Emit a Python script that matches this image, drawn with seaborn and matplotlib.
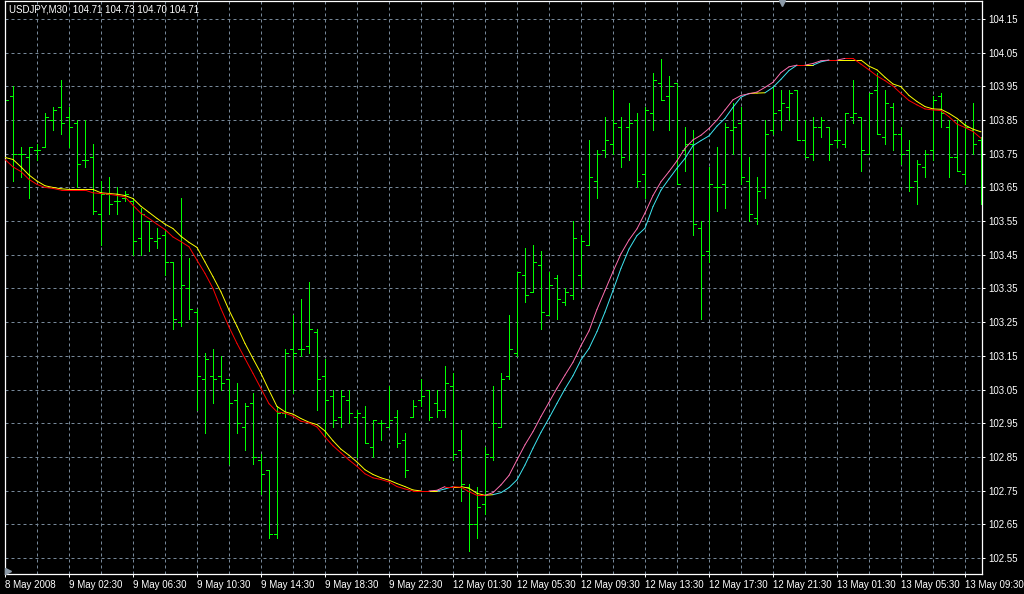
import numpy as np
import pandas as pd
import matplotlib
matplotlib.use("Agg")
import matplotlib.pyplot as plt
import seaborn as sns

# USDJPY M30 bars (open, high, low, close)
opens = [103.95, 103.92, 103.75, 103.74, 103.76, 103.77, 103.85, 103.89, 103.86, 103.84,
         103.73, 103.74, 103.57, 103.63, 103.61, 103.62, 103.61, 103.50, 103.55, 103.49,
         103.51, 103.43, 103.25, 103.35, 103.28, 103.08, 103.09, 103.09, 103.08, 103.02,
         102.94, 103.01, 102.84, 102.81, 102.62, 102.98, 103.17, 103.17, 103.18, 103.22,
         103.09, 103.03, 102.97, 103.02, 102.97, 102.97, 102.88, 102.95, 102.94, 102.97,
         102.90, 102.97, 103.02, 103.05, 103.01, 102.99, 103.06, 102.87, 102.76, 102.65,
         102.71, 102.85, 102.94, 103.09, 103.16, 103.39, 103.34, 103.42, 103.27, 103.38,
         103.31, 103.33, 103.39, 103.48, 103.67, 103.76, 103.78, 103.83, 103.83, 103.85,
         103.69, 103.87, 103.96, 103.92, 103.96, 103.76, 103.78, 103.53, 103.46, 103.65,
         103.66, 103.82, 103.84, 103.67, 103.56, 103.65, 103.82, 103.88, 103.89, 103.94,
         103.79, 103.75, 103.83, 103.83, 103.79, 103.78, 103.86, 103.86, 103.75, 103.94,
         103.80, 103.89, 103.81, 103.76, 103.67, 103.71, 103.76, 103.92, 103.83, 103.74,
         103.69, 103.82, 103.79]
highs = [103.98, 103.95, 103.77, 103.77, 103.78, 103.87, 103.89, 103.97, 103.89, 103.85,
         103.85, 103.78, 103.67, 103.68, 103.65, 103.64, 103.62, 103.59, 103.55, 103.53,
         103.52, 103.43, 103.62, 103.44, 103.29, 103.16, 103.17, 103.15, 103.08, 103.07,
         103.01, 103.04, 102.86, 102.81, 103.00, 103.17, 103.27, 103.32, 103.37, 103.23,
         103.14, 103.05, 103.05, 103.05, 102.99, 103.00, 102.96, 102.96, 103.06, 102.99,
         102.92, 103.02, 103.08, 103.05, 103.05, 103.12, 103.10, 102.93, 102.77, 102.76,
         102.88, 103.06, 103.10, 103.27, 103.40, 103.47, 103.48, 103.46, 103.40, 103.39,
         103.35, 103.55, 103.51, 103.79, 103.76, 103.86, 103.94, 103.86, 103.90, 103.87,
         103.89, 103.99, 104.03, 103.98, 103.96, 103.83, 103.82, 103.55, 103.71, 103.77,
         103.84, 103.90, 103.89, 103.74, 103.68, 103.85, 103.95, 103.94, 103.94, 103.94,
         103.85, 103.86, 103.86, 103.83, 103.82, 103.87, 103.97, 103.86, 103.93, 103.99,
         103.94, 103.90, 103.83, 103.79, 103.73, 103.76, 103.92, 103.93, 103.85, 103.85,
         103.84, 103.90, 103.80]
lows = [103.89, 103.67, 103.68, 103.62, 103.73, 103.77, 103.82, 103.81, 103.77, 103.65,
        103.71, 103.57, 103.48, 103.57, 103.57, 103.61, 103.45, 103.45, 103.46, 103.47,
        103.39, 103.23, 103.24, 103.26, 102.99, 102.92, 103.01, 103.05, 102.83, 102.92,
        102.87, 102.83, 102.74, 102.61, 102.61, 102.97, 103.04, 103.15, 103.16, 102.99,
        102.91, 102.94, 102.94, 102.95, 102.85, 102.89, 102.85, 102.90, 102.94, 102.88,
        102.79, 102.97, 103.00, 102.96, 102.97, 102.97, 102.84, 102.72, 102.57, 102.61,
        102.68, 102.84, 102.94, 103.08, 103.15, 103.31, 103.34, 103.23, 103.27, 103.26,
        103.30, 103.32, 103.35, 103.48, 103.62, 103.74, 103.75, 103.71, 103.73, 103.65,
        103.62, 103.82, 103.91, 103.82, 103.66, 103.70, 103.51, 103.26, 103.43, 103.58,
        103.59, 103.75, 103.66, 103.55, 103.54, 103.62, 103.81, 103.82, 103.85, 103.79,
        103.74, 103.73, 103.80, 103.73, 103.77, 103.77, 103.84, 103.70, 103.75, 103.81,
        103.78, 103.76, 103.72, 103.64, 103.60, 103.68, 103.73, 103.83, 103.68, 103.70,
        103.66, 103.75, 103.60]
closes = [103.91, 103.75, 103.75, 103.77, 103.76, 103.86, 103.88, 103.84, 103.83, 103.72,
          103.73, 103.58, 103.63, 103.60, 103.61, 103.63, 103.49, 103.57, 103.50, 103.50,
          103.43, 103.26, 103.36, 103.29, 103.09, 103.14, 103.08, 103.07, 103.01, 102.95,
          103.00, 102.85, 102.80, 102.62, 102.98, 103.16, 103.16, 103.17, 103.23, 103.08,
          103.02, 102.96, 103.03, 102.98, 102.98, 102.89, 102.96, 102.95, 102.96, 102.89,
          102.81, 103.00, 103.03, 102.97, 102.99, 103.07, 102.86, 102.77, 102.65, 102.70,
          102.86, 102.95, 103.08, 103.17, 103.40, 103.33, 103.43, 103.28, 103.36, 103.32,
          103.34, 103.50, 103.49, 103.68, 103.75, 103.79, 103.84, 103.74, 103.84, 103.67,
          103.88, 103.97, 103.91, 103.95, 103.66, 103.78, 103.54, 103.45, 103.66, 103.65,
          103.83, 103.83, 103.68, 103.57, 103.64, 103.81, 103.87, 103.90, 103.93, 103.79,
          103.74, 103.83, 103.85, 103.78, 103.79, 103.87, 103.87, 103.76, 103.93, 103.81,
          103.90, 103.81, 103.75, 103.65, 103.72, 103.75, 103.91, 103.87, 103.74, 103.70,
          103.83, 103.78, 103.74]

# two moving averages (slow: yellow/cyan, fast: red/pink)
ma_slow = [103.739, 103.733, 103.711, 103.687, 103.669, 103.655, 103.650, 103.646, 103.644, 103.644,
           103.644, 103.644, 103.634, 103.632, 103.630, 103.626, 103.617, 103.594, 103.576, 103.558,
           103.541, 103.528, 103.505, 103.487, 103.472,
           103.429, 103.385, 103.340, 103.286, 103.238, 103.187, 103.142, 103.098, 103.048, 103.000,
           102.984, 102.977, 102.964, 102.953, 102.946, 102.927, 102.898, 102.873, 102.855, 102.835,
           102.812, 102.798, 102.788, 102.781,
           102.771, 102.762, 102.752, 102.749, 102.749, 102.749, 102.755, 102.762, 102.762, 102.757,
           102.742, 102.736, 102.738, 102.744, 102.759, 102.782, 102.826, 102.876, 102.923, 102.965,
           103.009, 103.052, 103.091, 103.138, 103.172,
           103.222, 103.280, 103.344, 103.410, 103.467, 103.507, 103.529, 103.593, 103.642, 103.675,
           103.707, 103.736, 103.774, 103.789, 103.803, 103.832, 103.855, 103.888, 103.918, 103.929,
           103.930, 103.931, 103.947, 103.971,
           103.997, 104.013, 104.013, 104.013, 104.023, 104.028, 104.028, 104.028, 104.028, 104.028,
           104.010, 103.999, 103.977, 103.957, 103.949, 103.923, 103.905, 103.890, 103.883, 103.882,
           103.870, 103.855, 103.835, 103.823, 103.815]
ma_fast = [103.733, 103.711, 103.697, 103.674, 103.659, 103.650, 103.647, 103.642, 103.642, 103.642,
           103.642, 103.634, 103.632, 103.630, 103.626, 103.622, 103.597, 103.573, 103.558, 103.541,
           103.525, 103.503, 103.489, 103.474, 103.434,
           103.395, 103.350, 103.290, 103.236, 103.187, 103.142, 103.098, 103.053, 103.008, 102.984,
           102.980, 102.971, 102.956, 102.951, 102.939, 102.909, 102.883, 102.862, 102.841, 102.822,
           102.800, 102.788, 102.783, 102.776,
           102.762, 102.755, 102.749, 102.749, 102.749, 102.751, 102.762, 102.762, 102.760, 102.747,
           102.736, 102.736, 102.744, 102.767, 102.795, 102.841, 102.886, 102.925, 102.970, 103.012,
           103.054, 103.093, 103.131, 103.180, 103.224,
           103.288, 103.344, 103.400, 103.453, 103.494, 103.527, 103.574, 103.626, 103.667, 103.697,
           103.729, 103.766, 103.791, 103.805, 103.825, 103.850, 103.880, 103.910, 103.923, 103.928,
           103.933, 103.947, 103.962, 103.991,
           104.008, 104.013, 104.013, 104.018, 104.026, 104.028, 104.028, 104.033, 104.033, 104.016,
           103.999, 103.981, 103.967, 103.951, 103.929, 103.908, 103.895, 103.883, 103.880, 103.878,
           103.860, 103.838, 103.828, 103.816, 103.796]

time_labels = ["8 May 2008", "9 May 02:30", "9 May 06:30", "9 May 10:30", "9 May 14:30",
               "9 May 18:30", "9 May 22:30", "12 May 01:30", "12 May 05:30", "12 May 09:30",
               "12 May 13:30", "12 May 17:30", "12 May 21:30", "13 May 01:30", "13 May 05:30",
               "13 May 09:30"]
price_ticks = [102.55, 102.65, 102.75, 102.85, 102.95, 103.05, 103.15, 103.25, 103.35,
               103.45, 103.55, 103.65, 103.75, 103.85, 103.95, 104.05, 104.15]
title = "USDJPY,M30  104.71 104.73 104.70 104.71"

sns.set_theme(style="dark", rc={"axes.facecolor": "black", "figure.facecolor": "black"})
plt.rcParams["font.family"] = ["Liberation Sans", "DejaVu Sans"]

GRID = "#778899"
fig = plt.figure(figsize=(10.24, 5.94), dpi=100, facecolor="black")
ax = fig.add_axes([4.5 / 1024, 20 / 594, 977.2 / 1024, 573 / 594])
ax.set_facecolor("black")

# OHLC bars, 1 px wide like the terminal draws them
bar_idx = np.arange(len(opens))
kw = dict(color="#00ff00", lw=0.55, antialiased=False, zorder=2)
ax.vlines(bar_idx, lows, highs, **kw)
ax.hlines(opens, bar_idx - 0.32, bar_idx, **kw)
ax.hlines(closes, bar_idx, bar_idx + 0.32, **kw)

# moving averages, coloured by direction of each segment
rows = []
seg = 0
for vals, up, down in [(ma_slow, "up_s", "dn_s"), (ma_fast, "up_f", "dn_f")]:
    for i in range(1, len(vals)):
        col = up if vals[i] - vals[i - 1] > 0.002 else down
        rows.append((seg, i - 1, vals[i - 1], col))
        rows.append((seg, i, vals[i], col))
        seg += 1
ma_df = pd.DataFrame(rows, columns=["seg", "bar", "price", "col"])
palette = {"up_s": "#3ee6f2", "dn_s": "#ffff00", "up_f": "#ff6fb0", "dn_f": "#ff0000"}
sns.lineplot(data=ma_df, x="bar", y="price", hue="col", units="seg", estimator=None,
             palette=palette, lw=0.7, legend=False, ax=ax, zorder=3)

ax.set_xlim(-0.06, 122.09)
ax.set_ylim(102.5025, 104.2034)
ax.set_xticks(range(0, 121, 8))
ax.set_xticklabels(time_labels, ha="left")
ax.set_xticks(range(4, 121, 8), minor=True)
ax.set_yticks(price_ticks)
ax.set_yticklabels([f"{p:.2f}" for p in price_ticks])
ax.yaxis.tick_right()
ax.set_xlabel("")
ax.set_ylabel("")

ax.grid(True, which="both", color=GRID, linestyle=(0, (3, 3)), lw=0.72)
ax.tick_params(axis="x", which="major", colors="white", labelsize=7, length=2.5,
               width=0.72, pad=1.5, direction="out", bottom=True)
ax.tick_params(axis="x", which="minor", length=0)
ax.tick_params(axis="y", colors="white", labelsize=7, length=2.5, width=0.72, pad=2,
               direction="out", right=True, left=False)
for s in ax.spines.values():
    s.set_color("white")
    s.set_linewidth(0.9)
    s.set_visible(True)

# small grey chart-shift markers of the terminal
ax.plot([0.796], [0.997], marker="v", ms=4, color="#8c9aa8", transform=ax.transAxes,
        clip_on=False, zorder=5)
ax.plot([0.004], [0.006], marker=">", ms=4, color="#8c9aa8", transform=ax.transAxes,
        clip_on=False, zorder=5)

fig.text(9 / 1024, 1 - 9 / 594, title, color="white", fontsize=7, ha="left", va="center")

fig.savefig("out.png", dpi=100, facecolor="black")
